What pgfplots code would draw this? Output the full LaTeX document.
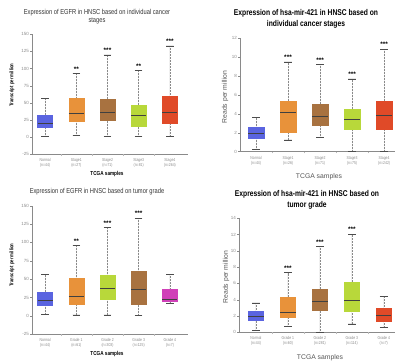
\documentclass[border=0pt]{standalone}
\usepackage{fontspec}
\setmainfont{Liberation Sans}
\newfontfamily\cond[FakeStretch=0.8]{Liberation Sans}
\usepackage{pgfplots}
\usepgfplotslibrary{statistics}
\usepackage{pgfplotstable}
\pgfplotsset{compat=1.18}

\definecolor{cN}{HTML}{5A64E0}
\definecolor{cS1}{HTML}{E8923A}
\definecolor{cS2}{HTML}{A87240}
\definecolor{cS3}{HTML}{B8D83A}
\definecolor{cS4}{HTML}{E04A28}
\definecolor{cG4}{HTML}{D040B8}
\definecolor{tk}{HTML}{8A8A8A}
\definecolor{lab}{HTML}{555555}

% EGFR by stage
\pgfplotstableread{
pos lw lq med uq uw
0 1.5 14 20.5 32.5 56
1 2.7 23.5 34.5 56.2 92.5
2 1.2 24.5 36.5 56 120
3 1.5 15.5 32 47.4 97
4 0.6 20.2 36.3 60 133
}\egfrStage
\pgfplotstableread{
pos y s
1 92.5 **
2 120 ***
3 97 **
4 133 ***
}\egfrStageStars

% miR-421 by stage
\pgfplotstableread{
pos lw lq med uq uw
0 0.28 1.48 1.98 2.58 3.6
1 1.24 2.05 4.15 5.4 9.5
2 1.55 2.86 3.7 5.08 9.25
3 0 2.36 3.42 4.55 7.7
4 0 2.4 3.85 5.37 10.85
}\mirStage
\pgfplotstableread{
pos y s
1 9.5 ***
2 9.25 ***
3 7.7 ***
4 10.85 ***
}\mirStageStars

% EGFR by grade
\pgfplotstableread{
pos lw lq med uq uw
0 1.8 14.5 21.5 33 56
1 1.5 15.4 26.5 51 96
2 1.5 22.8 37.5 55.2 120
3 0.5 15.4 36 61 133
4 16.7 20.4 22.7 35.8 57
}\egfrGrade
\pgfplotstableread{
pos y s
1 96 **
2 120 ***
3 133 ***
}\egfrGradeStars

% miR-421 by grade
\pgfplotstableread{
pos lw lq med uq uw
0 0.25 1.47 1.92 2.58 3.6
1 0.74 1.84 2.42 4.34 7.33
2 0 2.66 3.8 5.32 10.55
3 1.02 2.58 3.85 6.18 12.05
4 0.57 1.35 2.09 2.95 4.38
}\mirGrade
\pgfplotstableread{
pos y s
1 7.33 ***
2 10.55 ***
3 12.05 ***
}\mirGradeStars

\pgfplotsset{
  boxplot/draw direction=y,
  boxplot/draw/lower whisker/.code={%
    \draw[densely dotted, tk, line width=0.5pt]
      (boxplot box cs:\pgfplotsboxplotvalue{lower whisker},0.5) --
      (boxplot box cs:\pgfplotsboxplotvalue{lower quartile},0.5);
    \draw[black!70, line width=0.6pt]
      (boxplot whisker cs:\pgfplotsboxplotvalue{lower whisker},0) --
      (boxplot whisker cs:\pgfplotsboxplotvalue{lower whisker},1);
  },
  boxplot/draw/upper whisker/.code={%
    \draw[densely dotted, tk, line width=0.5pt]
      (boxplot box cs:\pgfplotsboxplotvalue{upper quartile},0.5) --
      (boxplot box cs:\pgfplotsboxplotvalue{upper whisker},0.5);
    \draw[black!70, line width=0.6pt]
      (boxplot whisker cs:\pgfplotsboxplotvalue{upper whisker},0) --
      (boxplot whisker cs:\pgfplotsboxplotvalue{upper whisker},1);
  },
  panel/.style={
    scale only axis,
    anchor=south west,
    axis x line*=bottom, axis y line*=left,
    axis line style={tk, line width=0.4pt},
    tick align=outside,
    major tick length=1.8pt,
    ytick style={tk, line width=0.4pt},
    xtick={0,1,2,3,4},
    xtick style={draw=none},
    extra x ticks={0.5,1.5,2.5,3.5},
    extra x tick labels={},
    extra x tick style={xtick style={draw=tk!60, line width=0.3pt}},
    /pgf/number format/assume math mode=true,
    yticklabel style={font=\fontsize{4.5}{5}\selectfont, text=tk, inner sep=1pt},
    xticklabel style={font=\cond\fontsize{4.3}{5}\selectfont, text=tk, align=center, inner sep=1pt, yshift=-1.5pt},
    boxplot/box extend=0.48,
    boxplot/whisker extend=0.24,
    boxplot/every median/.style={line width=0.9pt, draw=black!75},
    clip=false,
  },
  stars/.style={draw=none, mark=none, nodes near coords, point meta=explicit symbolic,
    nodes near coords style={font=\bfseries\fontsize{6.5}{6.5}\selectfont, anchor=south, inner sep=0.5pt, yshift=1.5pt}},
}

% draw one box from row #2 of table #1, colour #3
\newcommand{\bx}[3]{%
  \pgfplotstablegetelem{#2}{lw}\of{#1}\let\vlw\pgfplotsretval
  \pgfplotstablegetelem{#2}{lq}\of{#1}\let\vlq\pgfplotsretval
  \pgfplotstablegetelem{#2}{med}\of{#1}\let\vmed\pgfplotsretval
  \pgfplotstablegetelem{#2}{uq}\of{#1}\let\vuq\pgfplotsretval
  \pgfplotstablegetelem{#2}{uw}\of{#1}\let\vuw\pgfplotsretval
  \edef\tmpplot{\noexpand\addplot[boxplot prepared={draw position=#2,
      lower whisker=\vlw, lower quartile=\vlq, median=\vmed,
      upper quartile=\vuq, upper whisker=\vuw},
      fill=#3, draw=#3, line width=0.3pt] coordinates {};}%
  \tmpplot}

\begin{document}
\begin{tikzpicture}
\useasboundingbox (0,0) rectangle (397pt,362pt);

% ---------- Panel 1: EGFR stages ----------
\begin{axis}[panel, at={(32pt,207.7pt)}, width=156pt, height=120pt,
  xmin=-0.42, xmax=4.58, ymin=-25, ymax=150, ytick={-25,0,25,50,75,100,125,150},
  xticklabels={{Normal\\(n=44)},{Stage1\\(n=27)},{Stage2\\(n=71)},{Stage3\\(n=81)},{Stage4\\(n=264)}}]
\bx{\egfrStage}{0}{cN}
\bx{\egfrStage}{1}{cS1}
\bx{\egfrStage}{2}{cS2}
\bx{\egfrStage}{3}{cS3}
\bx{\egfrStage}{4}{cS4}
\addplot[stars] table[x=pos, y=y, meta=s] {\egfrStageStars};
\end{axis}
\node[font=\cond\fontsize{7.2}{8.2}\selectfont, text=black!80, align=center] at (97pt,345.5pt)
  {Expression of EGFR in HNSC based on individual cancer\\stages};
\node[font=\cond\bfseries\fontsize{5.3}{6}\selectfont, rotate=90] at (12pt,277pt) {Transcript per million};
\node[font=\cond\bfseries\fontsize{5.8}{6}\selectfont] at (107pt,188pt) {TCGA samples};

% ---------- Panel 2: miR-421 stages ----------
\begin{axis}[panel, at={(240pt,210.3pt)}, width=155pt, height=113.4pt,
  xmin=-0.5, xmax=4.34, ymin=0, ymax=12, ytick={0,2,4,6,8,10,12},
  xticklabels={{Normal\\(n=44)},{Stage1\\(n=26)},{Stage2\\(n=71)},{Stage3\\(n=75)},{Stage4\\(n=242)}}]
\bx{\mirStage}{0}{cN}
\bx{\mirStage}{1}{cS1}
\bx{\mirStage}{2}{cS2}
\bx{\mirStage}{3}{cS3}
\bx{\mirStage}{4}{cS4}
\addplot[stars] table[x=pos, y=y, meta=s] {\mirStageStars};
\end{axis}
\node[font=\cond\bfseries\fontsize{8.4}{11.5}\selectfont, align=center] at (306pt,343pt)
  {Expression of hsa-mir-421 in HNSC based on\\individual cancer stages};
\node[font=\fontsize{6.8}{7}\selectfont, text=lab, rotate=90] at (225pt,265pt) {Reads per million};
\node[font=\fontsize{6.8}{7}\selectfont, text=lab] at (319pt,185pt) {TCGA samples};

% ---------- Panel 3: EGFR grade ----------
\begin{axis}[panel, at={(32pt,27.7pt)}, width=156pt, height=128.6pt,
  xmin=-0.42, xmax=4.58, ymin=-25, ymax=150, ytick={-25,0,25,50,75,100,125,150},
  xticklabels={{Normal\\(n=44)},{Grade 1\\(n=61)},{Grade 2\\(n=303)},{Grade 3\\(n=125)},{Grade 4\\(n=7)}}]
\bx{\egfrGrade}{0}{cN}
\bx{\egfrGrade}{1}{cS1}
\bx{\egfrGrade}{2}{cS3}
\bx{\egfrGrade}{3}{cS2}
\bx{\egfrGrade}{4}{cG4}
\addplot[stars] table[x=pos, y=y, meta=s] {\egfrGradeStars};
\end{axis}
\node[font=\cond\fontsize{7.2}{8.2}\selectfont, text=black!80] at (97pt,170pt)
  {Expression of EGFR in HNSC based on tumor grade};
\node[font=\cond\bfseries\fontsize{5.3}{6}\selectfont, rotate=90] at (12pt,97pt) {Transcript per million};
\node[font=\cond\bfseries\fontsize{5.8}{6}\selectfont] at (107pt,8pt) {TCGA samples};

% ---------- Panel 4: miR-421 grade ----------
\begin{axis}[panel, at={(239pt,29.7pt)}, width=156pt, height=114pt,
  xmin=-0.53, xmax=4.35, ymin=0, ymax=14, ytick={0,2,4,6,8,10,12,14},
  xticklabels={{Normal\\(n=44)},{Grade 1\\(n=60)},{Grade 2\\(n=281)},{Grade 3\\(n=114)},{Grade 4\\(n=7)}}]
\bx{\mirGrade}{0}{cN}
\bx{\mirGrade}{1}{cS1}
\bx{\mirGrade}{2}{cS2}
\bx{\mirGrade}{3}{cS3}
\bx{\mirGrade}{4}{cS4}
\addplot[stars] table[x=pos, y=y, meta=s] {\mirGradeStars};
\end{axis}
\node[font=\cond\bfseries\fontsize{8.4}{11}\selectfont, align=center] at (307pt,162pt)
  {Expression of hsa-mir-421 in HNSC based on\\tumor grade};
\node[font=\fontsize{6.8}{7}\selectfont, text=lab, rotate=90] at (226pt,85pt) {Reads per million};
\node[font=\fontsize{6.8}{7}\selectfont, text=lab] at (320pt,4pt) {TCGA samples};
\end{tikzpicture}
\end{document}
